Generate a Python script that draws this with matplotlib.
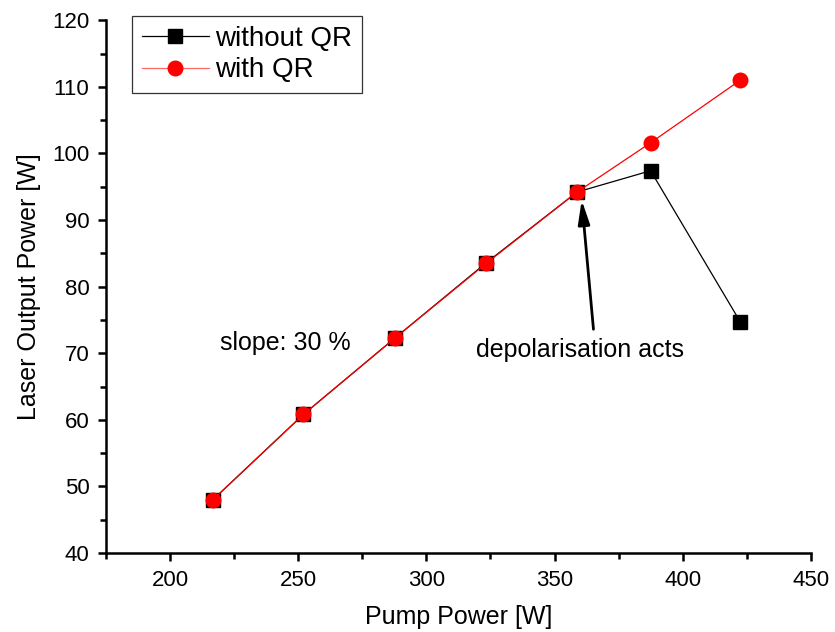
import numpy as np
import matplotlib
matplotlib.use("Agg")
import matplotlib.pyplot as plt
from matplotlib.ticker import MultipleLocator

plt.rcParams["font.family"] = ["Liberation Sans", "DejaVu Sans"]

# data
pump_power = [216.7, 252.0, 287.8, 323.4, 358.8, 387.5, 422.5]
out_without_qr = [48.0, 60.8, 72.3, 83.6, 94.2, 97.4, 74.7]
out_with_qr = [48.0, 60.8, 72.3, 83.5, 94.2, 101.6, 111.0]

fig = plt.figure(figsize=(8.35, 6.32), dpi=100)
ax = fig.add_axes([0.127, 0.125, 0.844, 0.843])

ax.plot(pump_power, out_without_qr, color="black", lw=0.9, marker="s",
        ms=9.5, mfc="black", mec="black", label="without QR")
ax.plot(pump_power, out_with_qr, color="red", lw=0.9, marker="o",
        ms=10.5, mfc="red", mec="red", label="with QR")

ax.set_xlim(175, 450)
ax.set_ylim(40, 120)
ax.xaxis.set_major_locator(MultipleLocator(50))
ax.xaxis.set_minor_locator(MultipleLocator(25))
ax.yaxis.set_major_locator(MultipleLocator(10))
ax.yaxis.set_minor_locator(MultipleLocator(5))

for s in ["top", "right"]:
    ax.spines[s].set_visible(False)
for s in ["left", "bottom"]:
    ax.spines[s].set_linewidth(1.8)
ax.tick_params(which="major", direction="out", length=6, width=1.8, labelsize=16, pad=6)
ax.tick_params(which="minor", direction="out", length=4, width=1.8)

ax.set_xlabel("Pump Power [W]", fontsize=18, labelpad=10)
ax.set_ylabel("Laser Output Power [W]", fontsize=18, labelpad=8)

ax.text(219.5, 71.6, "slope: 30 %", fontsize=18, va="center", ha="left")
ax.text(360.0, 70.5, "depolarisation acts", fontsize=18, ha="center", va="center")
# arrow from the label up to the 359 W point
ax.annotate("", xy=(360.6, 93.0), xytext=(365.2, 73.6),
            arrowprops=dict(arrowstyle="-|>,head_length=0.9,head_width=0.22",
                            color="black", lw=2.0,
                            mutation_scale=16, shrinkA=0, shrinkB=0))

leg = ax.legend(loc="upper left", bbox_to_anchor=(0.037, 1.008), fontsize=20,
                frameon=True, fancybox=False, edgecolor="black",
                handlelength=2.4, borderpad=0.35, labelspacing=0.2,
                handletextpad=0.25, borderaxespad=0)
leg.get_frame().set_linewidth(0.9)
leg.get_lines()[1].set_color("#ff6666")
leg.get_lines()[1].set_markerfacecolor("red")
leg.get_lines()[1].set_markeredgecolor("red")

fig.savefig("out.png", dpi=100)
